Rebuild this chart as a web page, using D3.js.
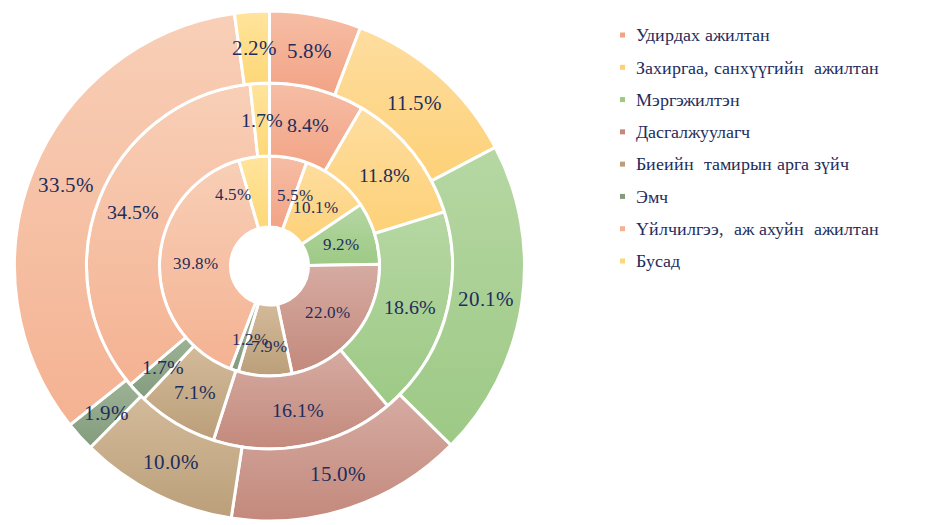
<!DOCTYPE html>
<html>
<head>
<meta charset="utf-8">
<script src="https://cdn.jsdelivr.net/npm/d3@7"></script>
<style>
  @font-face { font-family: "RefSerif"; src: local("Liberation Serif"), local("LiberationSerif"), local("Tinos"); }
  body { margin: 0; background: #fff; }
  svg { display: block; }
</style>
</head>
<body>
<svg id="chart"></svg>
<script>
// categories in legend order
const categories = [
    "Удирдах ажилтан",
    "Захиргаа, санхүүгийн  ажилтан",
    "Мэргэжилтэн",
    "Дасгалжуулагч",
    "Биеийн  тамирын арга зүйч",
    "Эмч",
    "Үйлчилгээ,  аж ахуйн  ажилтан",
    "Бусад"
];

// ring values, inner to outer (percent)
const innerRing = [5.5, 10.1, 9.2, 22.0, 7.9, 1.2, 39.8, 4.5];
const middleRing = [8.4, 11.8, 18.6, 16.1, 7.1, 1.7, 34.5, 1.7];
const outerRing = [5.8, 11.5, 20.1, 15.0, 10.0, 1.9, 33.5, 2.2];

// light (top) and dark (bottom) tones per category
const lightColors = ["#f6bea5", "#fedd9f", "#b6d7a3", "#d6aba2", "#d3ba99", "#9cb294", "#f8cfb7", "#ffe49c"];
const darkColors  = ["#f2a385", "#fdd178", "#9dc985", "#c3897c", "#bb9f7a", "#849c7e", "#f4b292", "#fed878"];

const width = 930, height = 525;
const cx = 269.5, cy = 266;
const textColor = '#1f2d5c';
const fontName = 'RefSerif, Liberation Serif, serif';

const svg = d3.select('#chart')
    .attr('width', width)
    .attr('height', height);

// gradients (per slice bounding box, lighter on top)
const defs = svg.append('defs');
categories.forEach((c, i) => {
    let grad = defs.append('linearGradient')
        .attr('id', 'grad' + i)
        .attr('x1', 0).attr('y1', 0)
        .attr('x2', 0).attr('y2', 1);
    grad.append('stop').attr('offset', '0%').attr('stop-color', lightColors[i]);
    grad.append('stop').attr('offset', '100%').attr('stop-color', darkColors[i]);
});

const chart = svg.append('g')
    .attr('transform', `translate(${cx}, ${cy})`);

const pie = d3.pie().sort(null);

const rings = [
    {values: innerRing, r0: 39, r1: 110, fontSize: 17},
    {values: middleRing, r0: 110, r1: 183, fontSize: 20},
    {values: outerRing, r0: 183, r1: 255, fontSize: 21}
];

// small label nudges where labels were moved apart in the original
const labelNudge = {
    '0-0': [13, 2],
    '0-7': [-26, 2],
    '0-4': [3, 6],
    '0-5': [4, 2]
};

rings.forEach((ring, ri) => {
    let arc = d3.arc()
        .innerRadius(ring.r0)
        .outerRadius(ring.r1);

    let arcs = pie(ring.values);

    chart.append('g').selectAll('path')
        .data(arcs)
        .enter()
        .append('path')
            .attr('d', arc)
            .attr('fill', (d, i) => `url(#grad${i})`)
            .attr('stroke', '#fff')
            .style('stroke-width', '3px');

    chart.append('g').selectAll('text')
        .data(arcs)
        .enter()
        .append('text')
            .attr('transform', (d, i) => {
                let c = arc.centroid(d);
                let n = labelNudge[ri + '-' + i] || [0, 0];
                return `translate(${c[0] + n[0]}, ${c[1] + n[1]})`;
            })
            .attr('text-anchor', 'middle')
            .attr('dy', '0.35em')
            .attr('fill', textColor)
            .style('font-family', fontName)
            .style('font-size', ring.fontSize + 'px')
            .text(d => d.value.toFixed(1) + '%');
});

// legend
const legendY = d3.scalePoint()
    .domain(categories)
    .range([35, 261]);

const legend = svg.append('g')
    .selectAll('g')
    .data(categories)
    .enter()
    .append('g')
        .attr('transform', d => `translate(620, ${legendY(d)})`);

legend.append('rect')
    .attr('x', 0)
    .attr('y', -2.5)
    .attr('width', 5)
    .attr('height', 5)
    .attr('fill', (d, i) => darkColors[i]);

legend.append('text')
    .attr('x', 16)
    .attr('dy', '0.35em')
    .attr('fill', textColor)
    .style('font-family', fontName)
    .style('font-size', '18px')
    .style('white-space', 'pre')
    .text(d => d);
</script>
</body>
</html>
